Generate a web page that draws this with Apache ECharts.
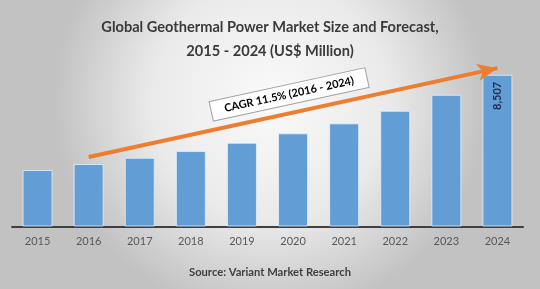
<!DOCTYPE html>
<html><head><meta charset="utf-8">
<script src="https://cdn.jsdelivr.net/npm/echarts@6/dist/echarts.min.js"></script>
<style>html,body{margin:0;padding:0;}#c{width:540px;height:289px;}</style>
</head><body><div id="c"></div>
<script>
const categories = ['2015','2016','2017','2018','2019','2020','2021','2022','2023','2024'];
const marketSize = [3166, 3503, 3856, 4231, 4696, 5223, 5783, 6489, 7386, 8507];
const titleText = 'Global Geothermal Power Market Size and Forecast,\n2015 - 2024 (US$ Million)';
const sourceText = 'Source: Variant Market Research';
const cagrText = 'CAGR 11.5% (2016 - 2024)';
const arrowStart = [0.9, 3900];
const arrowEnd = [8.82, 8880];

const chart = echarts.init(document.getElementById('c'));
const font = 'Lato, "Open Sans", sans-serif';
chart.setOption({
  animation: false,
  backgroundColor: {type:'radial', x:0.5, y:0.35, r:0.75, colorStops:[
    {offset:0, color:'#fafafa'},{offset:0.55, color:'#eaeaea'},{offset:1, color:'#c2c2c2'}]},
  title: [
    {text: titleText, left: 'center', top: 10, textStyle:{fontFamily:font, fontSize:14.6, fontWeight:'bold', color:'#3a3a3a', lineHeight:24}},
    {text: sourceText, left: 'center', top: 262, textStyle:{fontFamily:font, fontSize:11.2, fontWeight:'bold', color:'#404040'}}
  ],
  grid: {left: 12, right: 17, top: 66, bottom: 62.5},
  xAxis: {type:'category', data: categories,
    axisLine:{lineStyle:{color:'#404040', width:2}}, axisTick:{show:false},
    axisLabel:{color:'#595959', fontSize:11, fontFamily:font, margin:9}},
  yAxis: {type:'value', min:0, max:9000, show:false, splitLine:{show:false}},
  series: [{
    type:'bar', barWidth: 30,
    data: marketSize.map((v,i) => i === marketSize.length-1 ? {value:v, label:{show:true, position:'insideTop', rotate:90, align:'right', verticalAlign:'middle', distance:7, formatter: p => p.value.toLocaleString('en-US'), color:'#1f2a4a', fontWeight:'bold', fontSize:11, fontFamily:font}} : v),
    itemStyle:{color:'#629dd6', borderColor:'rgba(230,240,250,0.8)', borderWidth:1},
    markLine: {
      silent:true, symbol:['none','arrow'], symbolSize:[13,20],
      lineStyle:{color:'#ed7d31', width:4, type:'solid'},
      label:{show:true, position:'insideMiddleTop', distance:9, formatter: cagrText,
        color:'#000', fontWeight:'bold', fontSize:11, fontFamily:font,
        backgroundColor:'#ffffff', borderColor:'#a0a0a0', borderWidth:1, padding:[4,13]},
      data: [[{coord: arrowStart}, {coord: arrowEnd}]]
    }
  }]
});
</script></body></html>
